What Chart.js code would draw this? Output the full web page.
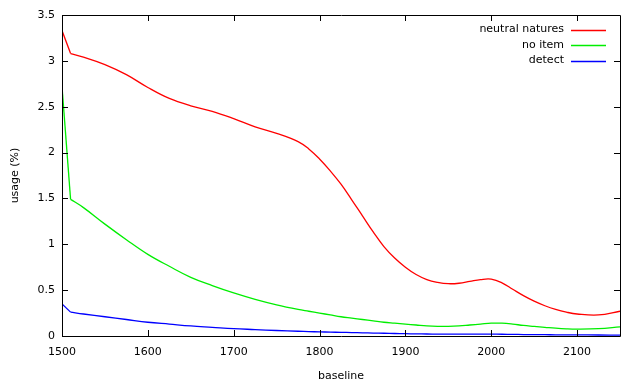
<!DOCTYPE html>
<html>
<head>
<meta charset="utf-8">
<script src="https://cdn.jsdelivr.net/npm/chart.js@4"></script>
<style>
  html, body { margin: 0; padding: 0; background: #fff; }
  #wrap { width: 640px; height: 387px; }
</style>
</head>
<body>
<div id="wrap"><canvas id="usageChart" width="640" height="387"></canvas></div>
<script>
// values
const baseline = [1500, 1510, 1525, 1550, 1575, 1600, 1625, 1650, 1675, 1700, 1725, 1750, 1775, 1787.5,
  1800, 1812.5, 1825, 1837.5, 1850, 1862.5, 1875, 1887.5, 1900, 1912.5, 1925, 1937.5, 1950, 1962.5, 1975, 1987.5,
  2000, 2012.5, 2025, 2037.5, 2050, 2062.5, 2075, 2087.5, 2100, 2125, 2150];
const neutralNatures = [3.33, 3.08, 3.04, 2.96, 2.85, 2.71, 2.59, 2.51, 2.45, 2.37, 2.28, 2.21, 2.12, 2.04,
  1.93, 1.80, 1.655, 1.485, 1.31, 1.135, 0.975, 0.85, 0.75, 0.67, 0.615, 0.585, 0.57, 0.575, 0.595, 0.615,
  0.62, 0.58, 0.51, 0.44, 0.38, 0.33, 0.29, 0.26, 0.24, 0.23, 0.27];
const noItem = [2.72, 1.49, 1.40, 1.22, 1.05, 0.89, 0.76, 0.64, 0.55, 0.47, 0.40, 0.34, 0.29, 0.27,
  0.25, 0.23, 0.21, 0.195, 0.18, 0.165, 0.15, 0.14, 0.13, 0.12, 0.11, 0.105, 0.105, 0.11, 0.12, 0.13,
  0.14, 0.14, 0.13, 0.115, 0.105, 0.095, 0.085, 0.078, 0.075, 0.08, 0.10];
const detect = [0.35, 0.26, 0.24, 0.21, 0.18, 0.15, 0.13, 0.11, 0.095, 0.08, 0.07, 0.06, 0.052, 0.048,
  0.045, 0.042, 0.04, 0.037, 0.035, 0.032, 0.03, 0.027, 0.025, 0.023, 0.022, 0.021, 0.02, 0.02, 0.02, 0.02,
  0.02, 0.019, 0.018, 0.016, 0.015, 0.014, 0.013, 0.012, 0.012, 0.011, 0.01];
const xTicks = [1500, 1600, 1700, 1800, 1900, 2000, 2100];
const yTicks = [0, 0.5, 1, 1.5, 2, 2.5, 3, 3.5];

const FONT = 'DejaVu Sans';
const keyEntries = [
  { label: 'neutral natures', color: '#ff0000' },
  { label: 'no item', color: '#00ee00' },
  { label: 'detect', color: '#0000ff' },
];

function points(values, from, to) {
  return baseline.slice(from, to).map((b, i) => ({ x: b, y: values[from + i] }));
}

// the first step is a straight drop, the rest is a smooth curve
function series(label, values, color) {
  const common = { borderColor: color, borderWidth: 1.3, pointRadius: 0, fill: false };
  return [
    Object.assign({ label: label, data: points(values, 1), tension: 0.4 }, common),
    Object.assign({ label: label + ' start', data: points(values, 0, 2), tension: 0 }, common),
  ];
}

// box, inward tick marks and the gnuplot-style key
const gnuplotFrame = {
  id: 'gnuplotFrame',
  afterDatasetsDraw(chart) {
    const ctx = chart.ctx;
    const a = chart.chartArea;
    const xs = chart.scales.x, ys = chart.scales.y;
    ctx.save();
    ctx.strokeStyle = '#000';
    ctx.lineWidth = 1;
    ctx.beginPath();
    ctx.rect(Math.round(a.left) + 0.5, Math.round(a.top) + 0.5,
      Math.round(a.right - a.left), Math.round(a.bottom - a.top));
    ctx.stroke();
    ctx.beginPath();
    xTicks.forEach(v => {
      const px = Math.round(xs.getPixelForValue(v)) + 0.5;
      ctx.moveTo(px, a.bottom); ctx.lineTo(px, a.bottom - 6);
      ctx.moveTo(px, a.top); ctx.lineTo(px, a.top + 6);
    });
    yTicks.forEach(v => {
      const py = Math.round(ys.getPixelForValue(v)) + 0.5;
      ctx.moveTo(a.left, py); ctx.lineTo(a.left + 6, py);
      ctx.moveTo(a.right, py); ctx.lineTo(a.right - 6, py);
    });
    ctx.stroke();

    // key
    ctx.font = '11px "' + FONT + '"';
    ctx.textAlign = 'right';
    ctx.textBaseline = 'middle';
    ctx.lineWidth = 1.3;
    keyEntries.forEach((k, i) => {
      const y = 29.5 + i * 15.5;
      ctx.fillStyle = '#000';
      ctx.fillText(k.label, 564, y);
      ctx.strokeStyle = k.color;
      ctx.beginPath();
      ctx.moveTo(571, Math.round(y) + 0.5);
      ctx.lineTo(606, Math.round(y) + 0.5);
      ctx.stroke();
    });
    ctx.restore();
  }
};

const ctx = document.getElementById('usageChart').getContext('2d');
new Chart(ctx, {
  type: 'line',
  data: {
    datasets: [].concat(
      series(keyEntries[0].label, neutralNatures, keyEntries[0].color),
      series(keyEntries[1].label, noItem, keyEntries[1].color),
      series(keyEntries[2].label, detect, keyEntries[2].color)
    ),
  },
  options: {
    responsive: false,
    animation: false,
    maintainAspectRatio: false,
    layout: { padding: { top: 15, right: 20, left: 0, bottom: 0 } },
    plugins: { legend: { display: false }, tooltip: { enabled: false } },
    scales: {
      x: {
        type: 'linear',
        min: 1500,
        max: 2150,
        afterBuildTicks: s => { s.ticks = xTicks.map(v => ({ value: v })); },
        afterFit: s => { s.height = 51; },
        grid: { display: false, drawTicks: false },
        border: { display: false },
        ticks: {
          padding: 10,
          color: '#000',
          font: { family: FONT, size: 11 },
          callback: v => String(v),
          maxRotation: 0,
        },
        title: {
          display: true,
          text: 'baseline',
          color: '#000',
          font: { family: FONT, size: 11 },
          padding: { top: 0, bottom: 4 },
        },
      },
      y: {
        min: 0,
        max: 3.5,
        afterBuildTicks: s => { s.ticks = yTicks.map(v => ({ value: v })); },
        afterFit: s => { s.width = 62; },
        grid: { display: false, drawTicks: false },
        border: { display: false },
        ticks: {
          padding: 7,
          color: '#000',
          font: { family: FONT, size: 11 },
          callback: v => String(v),
        },
        title: {
          display: true,
          text: 'usage (%)',
          color: '#000',
          font: { family: FONT, size: 11 },
          padding: { top: 9, bottom: 0 },
        },
      },
    },
  },
  plugins: [gnuplotFrame],
});
</script>
</body>
</html>
